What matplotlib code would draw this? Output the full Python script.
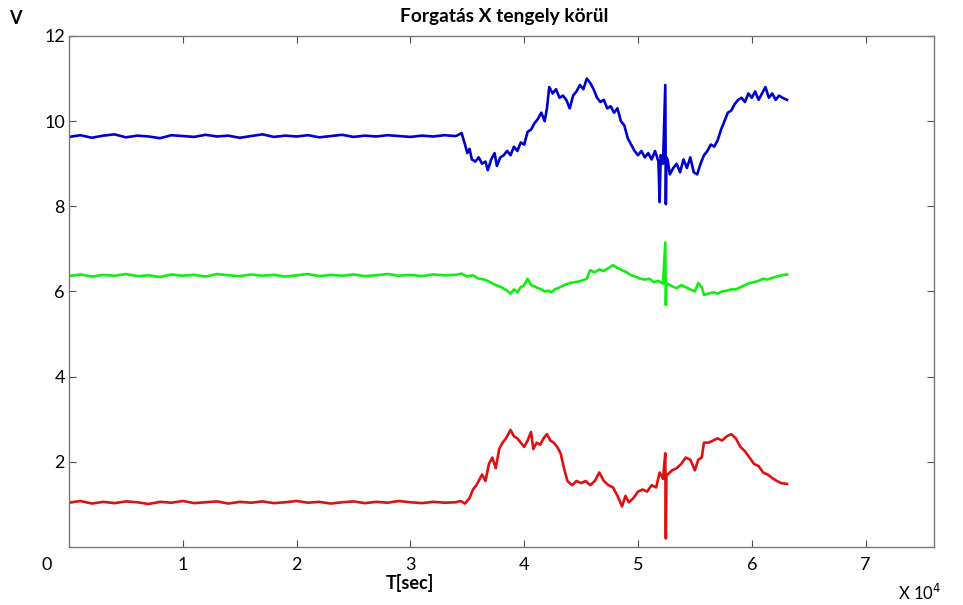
import numpy as np
import matplotlib
matplotlib.use("Agg")
import matplotlib.pyplot as plt

plt.rcParams['font.family'] = ['Lato', 'DejaVu Sans']

# time in units of 10^4 s
flat_t = [0.0, 0.1, 0.2, 0.3, 0.4, 0.5, 0.6, 0.7, 0.8, 0.9, 1.0, 1.1, 1.2, 1.3, 1.4, 1.5, 1.6,
          1.7, 1.8, 1.9, 2.0, 2.1, 2.2, 2.3, 2.4, 2.5, 2.6, 2.7, 2.8, 2.9, 3.0, 3.1, 3.2, 3.3, 3.4]

blue_flat = [9.63, 9.67, 9.61, 9.66, 9.69, 9.62, 9.66, 9.64, 9.60, 9.67, 9.65, 9.63, 9.68, 9.64,
             9.66, 9.61, 9.65, 9.69, 9.63, 9.66, 9.64, 9.67, 9.62, 9.65, 9.68, 9.63, 9.66, 9.64,
             9.67, 9.65, 9.63, 9.66, 9.64, 9.67, 9.65]
green_flat = [6.36, 6.40, 6.35, 6.39, 6.37, 6.41, 6.36, 6.38, 6.34, 6.40, 6.37, 6.39, 6.35, 6.41,
              6.38, 6.36, 6.40, 6.37, 6.39, 6.35, 6.38, 6.41, 6.36, 6.39, 6.37, 6.40, 6.36, 6.38,
              6.41, 6.37, 6.39, 6.36, 6.40, 6.38, 6.39]
red_flat = [1.04, 1.08, 1.02, 1.06, 1.03, 1.07, 1.05, 1.01, 1.06, 1.04, 1.08, 1.03, 1.05, 1.07,
            1.02, 1.06, 1.04, 1.07, 1.03, 1.05, 1.08, 1.04, 1.06, 1.02, 1.05, 1.07, 1.03, 1.06,
            1.04, 1.08, 1.05, 1.03, 1.06, 1.04, 1.05]

blue_t = [3.45, 3.48, 3.50, 3.52, 3.54, 3.57, 3.60, 3.63, 3.66, 3.68, 3.71, 3.74, 3.76, 3.79,
          3.82, 3.85, 3.88, 3.91, 3.94, 3.97, 4.00, 4.03, 4.06, 4.09, 4.12, 4.15, 4.18, 4.20,
          4.22, 4.25, 4.28, 4.31, 4.34, 4.37, 4.40, 4.43, 4.46, 4.49, 4.52, 4.55, 4.58, 4.61,
          4.64, 4.67, 4.70, 4.73, 4.76, 4.79, 4.82, 4.85, 4.88, 4.91, 4.94, 4.97, 5.00, 5.03,
          5.06, 5.09, 5.12, 5.15, 5.18, 5.19, 5.20, 5.22, 5.24, 5.245, 5.25, 5.26, 5.28, 5.31,
          5.34, 5.37, 5.40, 5.43, 5.46, 5.49, 5.52, 5.55, 5.58, 5.61, 5.64, 5.67, 5.70, 5.73,
          5.76, 5.79, 5.82, 5.85, 5.88, 5.91, 5.94, 5.97, 6.00, 6.03, 6.06, 6.09, 6.12, 6.15,
          6.18, 6.21, 6.24, 6.27, 6.31]
blue_v = [9.72, 9.45, 9.25, 9.35, 9.10, 9.05, 9.15, 9.00, 9.05, 8.85, 9.10, 9.25, 8.95, 9.15,
          9.20, 9.30, 9.20, 9.40, 9.30, 9.50, 9.45, 9.75, 9.80, 9.95, 10.05, 10.20, 10.00, 10.30,
          10.80, 10.65, 10.75, 10.55, 10.60, 10.50, 10.30, 10.60, 10.70, 10.85, 10.75, 11.00,
          10.90, 10.75, 10.55, 10.45, 10.50, 10.30, 10.35, 10.20, 10.30, 10.00, 9.90, 9.60, 9.45,
          9.30, 9.20, 9.30, 9.15, 9.25, 9.10, 9.30, 9.05, 8.10, 9.20, 9.00, 10.85, 8.05, 9.15,
          9.10, 8.75, 8.90, 9.00, 8.80, 9.10, 8.90, 9.15, 8.80, 8.75, 9.00, 9.20, 9.30, 9.45,
          9.40, 9.55, 9.80, 10.00, 10.20, 10.25, 10.40, 10.50, 10.55, 10.45, 10.65, 10.55, 10.70,
          10.50, 10.65, 10.80, 10.55, 10.65, 10.50, 10.60, 10.55, 10.50]

green_t = [3.45, 3.50, 3.55, 3.60, 3.65, 3.70, 3.75, 3.80, 3.85, 3.88, 3.91, 3.94, 3.97, 4.00,
           4.03, 4.06, 4.09, 4.12, 4.15, 4.18, 4.21, 4.24, 4.27, 4.30, 4.35, 4.40, 4.45, 4.50,
           4.55, 4.58, 4.62, 4.66, 4.70, 4.74, 4.78, 4.82, 4.86, 4.90, 4.94, 4.98, 5.02, 5.06,
           5.10, 5.14, 5.18, 5.22, 5.24, 5.245, 5.25, 5.26, 5.30, 5.34, 5.38, 5.42, 5.46, 5.50,
           5.53, 5.56, 5.58, 5.62, 5.66, 5.70, 5.74, 5.78, 5.82, 5.86, 5.90, 5.94, 5.98, 6.02,
           6.06, 6.10, 6.14, 6.18, 6.22, 6.26, 6.31]
green_v = [6.42, 6.35, 6.38, 6.30, 6.28, 6.22, 6.15, 6.10, 6.02, 5.95, 6.05, 5.98, 6.10, 6.15,
           6.30, 6.15, 6.12, 6.08, 6.05, 6.00, 6.02, 5.98, 6.05, 6.08, 6.15, 6.20, 6.22, 6.25,
           6.30, 6.50, 6.45, 6.52, 6.48, 6.55, 6.62, 6.55, 6.50, 6.45, 6.38, 6.35, 6.30, 6.28,
           6.30, 6.22, 6.25, 6.18, 7.15, 5.68, 6.20, 6.18, 6.12, 6.08, 6.15, 6.10, 6.05, 6.00,
           6.20, 6.10, 5.92, 5.95, 5.98, 5.95, 6.00, 6.02, 6.05, 6.05, 6.10, 6.15, 6.20, 6.22,
           6.25, 6.30, 6.28, 6.32, 6.35, 6.38, 6.40]

red_t = [3.44, 3.48, 3.52, 3.55, 3.58, 3.61, 3.63, 3.66, 3.69, 3.72, 3.75, 3.78, 3.81, 3.84,
         3.88, 3.91, 3.94, 3.97, 4.00, 4.03, 4.06, 4.08, 4.11, 4.14, 4.17, 4.20, 4.23, 4.26,
         4.29, 4.32, 4.35, 4.38, 4.42, 4.46, 4.50, 4.54, 4.58, 4.62, 4.66, 4.70, 4.74, 4.78,
         4.82, 4.86, 4.89, 4.92, 4.96, 5.00, 5.04, 5.08, 5.12, 5.16, 5.19, 5.22, 5.24, 5.245,
         5.25, 5.26, 5.30, 5.34, 5.38, 5.42, 5.46, 5.50, 5.53, 5.56, 5.58, 5.62, 5.66, 5.70,
         5.74, 5.78, 5.82, 5.86, 5.90, 5.94, 5.98, 6.02, 6.06, 6.10, 6.14, 6.18, 6.22, 6.26, 6.31]
red_v = [1.08, 1.02, 1.15, 1.35, 1.45, 1.60, 1.70, 1.55, 1.95, 2.10, 1.85, 2.30, 2.45, 2.55,
         2.75, 2.60, 2.55, 2.45, 2.35, 2.50, 2.70, 2.30, 2.45, 2.40, 2.55, 2.65, 2.50, 2.45,
         2.35, 2.20, 1.85, 1.55, 1.45, 1.55, 1.50, 1.55, 1.45, 1.55, 1.75, 1.55, 1.45, 1.40,
         1.20, 0.95, 1.20, 1.05, 1.15, 1.30, 1.35, 1.30, 1.45, 1.40, 1.75, 1.60, 2.20, 0.20,
         1.70, 1.70, 1.80, 1.85, 1.95, 2.10, 2.05, 1.80, 2.05, 2.10, 2.45, 2.45, 2.50, 2.55,
         2.50, 2.60, 2.65, 2.55, 2.35, 2.25, 2.10, 1.95, 1.90, 1.75, 1.70, 1.62, 1.55, 1.50, 1.48]

x_ticks = [1, 2, 3, 4, 5, 6, 7]
y_ticks = [2, 4, 6, 8, 10, 12]

fig = plt.figure(figsize=(9.63, 6.05), dpi=100)
ax = fig.add_axes([0.0717, 0.0959, 0.898, 0.8446])

ax.plot(flat_t + blue_t, blue_flat + blue_v, color='#0000cc', lw=1.9)
ax.plot(flat_t + green_t, green_flat + green_v, color='#11ee11', lw=1.9)
ax.plot(flat_t + red_t, red_flat + red_v, color='#dd1111', lw=1.9)

ax.set_xlim(0, 7.6)
ax.set_ylim(0, 12)
ax.set_xticks(x_ticks)
ax.set_yticks(y_ticks)
ax.set_xticklabels([str(v) for v in x_ticks], fontsize=13)
ax.set_yticklabels([str(v) for v in y_ticks], fontsize=13)
ax.tick_params(direction='in', top=True, right=True, length=5, color='#555555')
ax.tick_params(axis='x', pad=7)
ax.tick_params(axis='y', pad=3)
for s in ax.spines.values():
    s.set_color('#777777')
    s.set_linewidth(1.0)

fig.text(0.524, 0.972, 'Forgatás X tengely körül', fontsize=13.8, fontweight='bold',
         ha='center', va='center')
fig.text(0.049, 0.066, '0', fontsize=13, ha='center', va='center')
fig.text(0.016, 0.970, 'V', fontsize=13, fontweight='bold', ha='center', va='center')
fig.text(0.426, 0.036, 'T[sec]', fontsize=13, fontweight='bold', ha='center', va='center')
fig.text(0.955, 0.020, r'X 10$^4$', fontsize=12, ha='center', va='center')

fig.savefig('out.png', dpi=100)
